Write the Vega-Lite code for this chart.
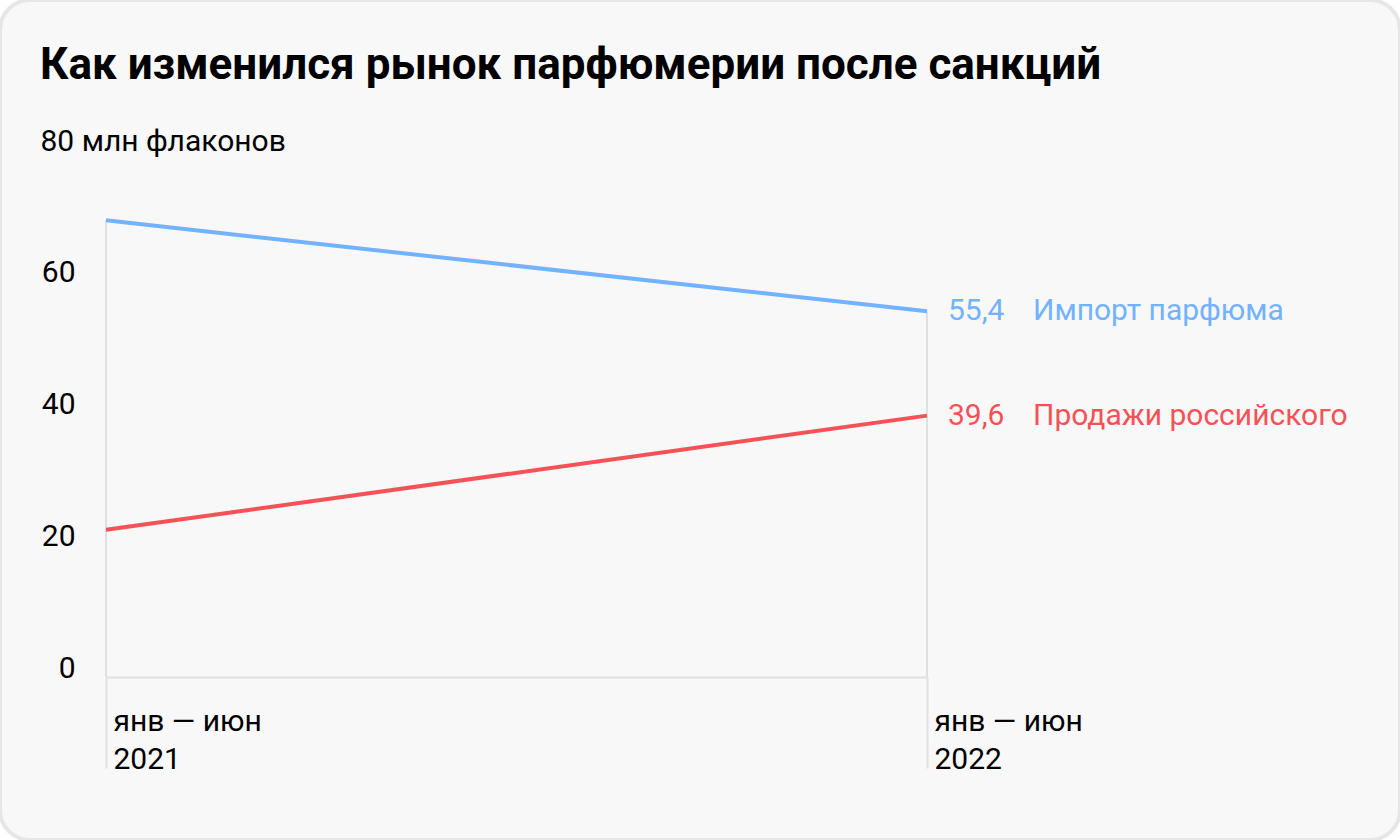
{
  "$schema": "https://vega.github.io/schema/vega-lite/v6.json",
  "width": 1400,
  "height": 840,
  "autosize": {"type": "none"},
  "padding": 0,
  "background": "#ffffff",
  "title": {
    "text": "Как изменился рынок парфюмерии после санкций",
    "anchor": "start",
    "frame": "group",
    "orient": "top",
    "offset": -123,
    "dx": 40,
    "baseline": "alphabetic",
    "font": "Roboto",
    "fontSize": 44,
    "fontWeight": "bold",
    "color": "#000000"
  },
  "config": {
    "locale": {"number": {"decimal": ",", "thousands": "\u00a0", "grouping": [3], "currency": ["", ""]}},
    "view": {"fill": "#f8f8f8", "stroke": "#e6e6e6", "strokeWidth": 4, "cornerRadius": 30},
    "font": "Roboto"
  },
  "data": {
    "values": [
      {"period": "2021", "series": "Импорт парфюма", "value": 69.2},
      {"period": "2022", "series": "Импорт парфюма", "value": 55.4},
      {"period": "2021", "series": "Продажи российского", "value": 22.3},
      {"period": "2022", "series": "Продажи российского", "value": 39.6}
    ]
  },
  "encoding": {
    "x": {
      "field": "period",
      "type": "ordinal",
      "scale": {"type": "point", "range": [106, 927], "padding": 0},
      "axis": {
        "title": null,
        "orient": "bottom",
        "offset": -163,
        "domainColor": "#e0e0e0",
        "domainWidth": 2,
        "tickColor": "#e0e0e0",
        "tickWidth": 2,
        "tickSize": 91,
        "labelAngle": 0,
        "labelAlign": "left",
        "labelBaseline": "alphabetic",
        "labelOffset": 7,
        "labelPadding": -38,
        "labelLineHeight": 38,
        "labelFont": "Roboto",
        "labelFontSize": 30,
        "labelColor": "#000000",
        "labelOverlap": false,
        "labelExpr": "['янв — июн', datum.label]"
      }
    },
    "y": {
      "field": "value",
      "type": "quantitative",
      "scale": {"domain": [0, 80], "range": [677, 149], "nice": false, "zero": false},
      "axis": {
        "orient": "left",
        "offset": -106,
        "values": [0, 20, 40, 60],
        "domain": false,
        "ticks": false,
        "grid": false,
        "labelPadding": 31,
        "labelAlign": "right",
        "labelBaseline": "alphabetic",
        "labelFont": "Roboto",
        "labelFontSize": 30,
        "labelColor": "#000000",
        "title": "80 млн флаконов",
        "titleAngle": 0,
        "titleAlign": "left",
        "titleBaseline": "alphabetic",
        "titleX": -66,
        "titleY": 150,
        "titleFont": "Roboto",
        "titleFontSize": 30,
        "titleFontWeight": "normal",
        "titleColor": "#000000"
      }
    },
    "color": {
      "field": "series",
      "type": "nominal",
      "scale": {"domain": ["Импорт парфюма", "Продажи российского"], "range": ["#72b2ff", "#f45256"]},
      "legend": null
    }
  },
  "layer": [
    {
      "mark": {"type": "rule", "color": "#e0e0e0", "strokeWidth": 2},
      "encoding": {
        "y": {"aggregate": "max", "field": "value", "type": "quantitative"},
        "y2": {"datum": 0},
        "color": {"value": "#e0e0e0"}
      }
    },
    {
      "mark": {"type": "line", "strokeWidth": 4},
      "encoding": {}
    },
    {
      "transform": [{"filter": "datum.period == '2022'"}],
      "mark": {"type": "text", "align": "left", "baseline": "middle", "dx": 21, "fontSize": 30, "font": "Roboto"},
      "encoding": {"text": {"field": "value", "type": "quantitative", "format": ".1f"}}
    },
    {
      "transform": [{"filter": "datum.period == '2022'"}],
      "mark": {"type": "text", "align": "left", "baseline": "middle", "dx": 106, "fontSize": 30, "font": "Roboto"},
      "encoding": {"text": {"field": "series", "type": "nominal"}}
    }
  ]
}
